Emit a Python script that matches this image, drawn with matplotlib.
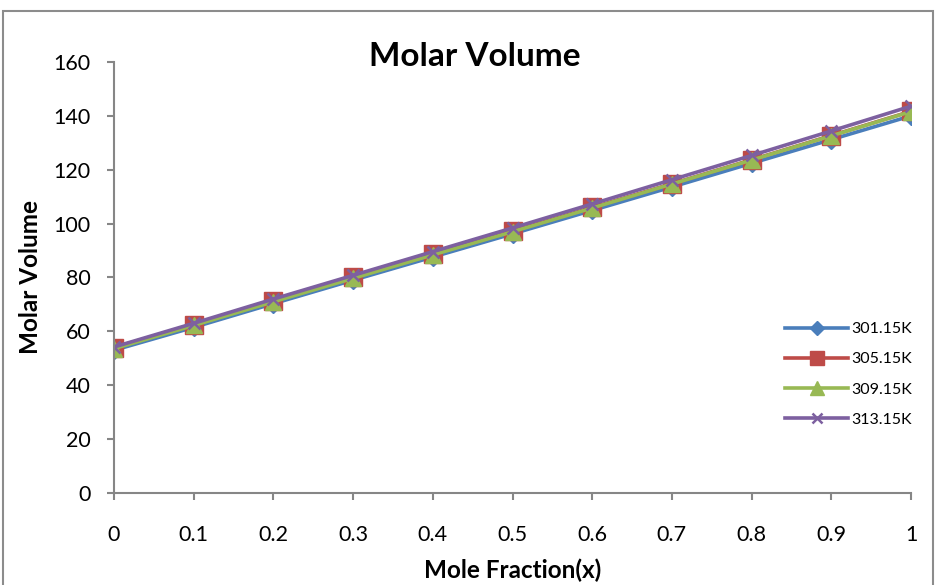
import numpy as np
import matplotlib.pyplot as plt
from matplotlib.patches import Rectangle

plt.rcParams['font.family'] = ['Lato', 'DejaVu Sans']

# data
x = [0, 0.1, 0.2, 0.3, 0.4, 0.5, 0.6, 0.7, 0.8, 0.9, 1.0]
v_301 = [53.0, 61.5, 70.3, 79.0, 87.6, 96.2, 104.9, 113.6, 122.4, 131.2, 140.0]
v_305 = [54.0, 62.5, 71.3, 80.0, 88.6, 97.2, 106.0, 114.8, 123.7, 132.7, 141.7]
v_309 = [53.6, 62.2, 71.0, 79.7, 88.4, 97.0, 105.8, 114.7, 123.6, 132.6, 141.6]
v_313 = [54.2, 63.0, 72.0, 80.8, 89.6, 98.4, 107.3, 116.3, 125.3, 134.4, 143.6]
labels = ['301.15K', '305.15K', '309.15K', '313.15K']

fig = plt.figure(figsize=(9.36, 5.85), dpi=100)
ax = fig.add_axes([0.1218, 0.1573, 0.8515, 0.7367])

# outer chart frame
fig.patches.append(Rectangle((0.0035, -0.05), 0.993, 1.031, transform=fig.transFigure,
                             fill=False, edgecolor='#8c8c8c', linewidth=1.5))

series = [
    (v_301, '#4A7EBB', 'D', 9),
    (v_305, '#BE4B48', 's', 13),
    (v_309, '#98B954', '^', 12),
    (v_313, '#7D60A0', 'x', 9),
]
for (vals, col, mk, ms), lab in zip(series, labels):
    kw = dict(markeredgecolor=col, markerfacecolor=col)
    if mk == 'x':
        kw['markeredgewidth'] = 1.8
    ax.plot(x, vals, color=col, lw=2.6, marker=mk, markersize=ms, label=lab, **kw)

ax.set_xlim(0, 1)
ax.set_ylim(0, 160)
ax.set_xticks(np.arange(0, 1.01, 0.1))
ax.set_xticklabels(['0', '0.1', '0.2', '0.3', '0.4', '0.5', '0.6', '0.7', '0.8', '0.9', '1'])
ax.set_yticks(range(0, 161, 20))

for s in ['top', 'right']:
    ax.spines[s].set_visible(False)
for s in ['left', 'bottom']:
    ax.spines[s].set_color('#868686')
    ax.spines[s].set_linewidth(1.5)
ax.tick_params(axis='both', direction='out', length=5, width=1.5, color='#868686',
               labelsize=15.5)
ax.tick_params(axis='x', pad=18)
ax.tick_params(axis='y', pad=12)

ax.set_title('Molar Volume', fontsize=24, fontweight='bold', pad=0, x=0.453, y=0.99)
ax.set_xlabel('Mole Fraction(x)', fontsize=17.5, fontweight='bold', labelpad=10)
ax.set_ylabel('Molar Volume', fontsize=17.5, fontweight='bold', labelpad=8)

ax.legend(loc='center right', bbox_to_anchor=(1.02, 0.275), frameon=False, fontsize=11.5,
          handlelength=3.9, labelspacing=1.0, handletextpad=0.25, markerscale=0.8)

fig.savefig('out.png', dpi=100)
